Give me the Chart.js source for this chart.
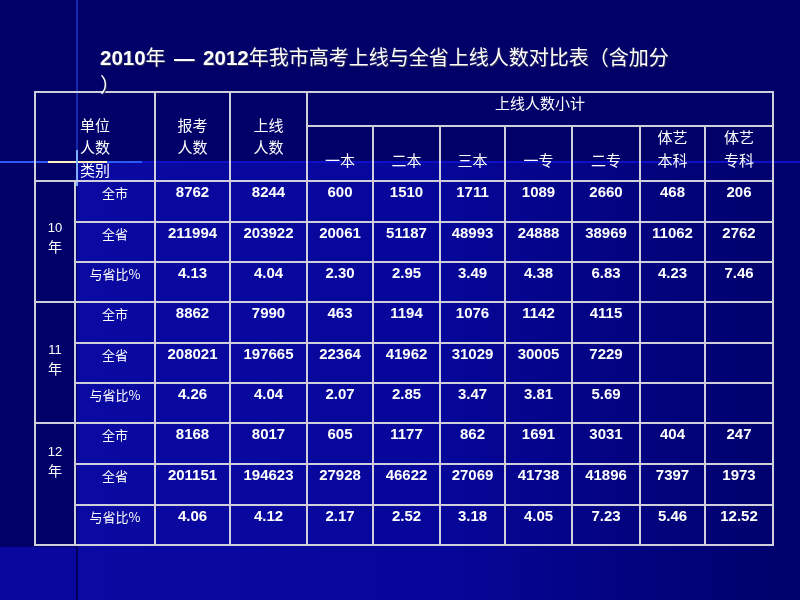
<!DOCTYPE html>
<html>
<head>
<meta charset="utf-8">
<script src="https://cdn.jsdelivr.net/npm/chart.js@4.4.1/dist/chart.umd.min.js"></script>
<style>
  html, body { margin: 0; padding: 0; background: #000066; }
  #wrap { position: relative; width: 800px; height: 600px; overflow: hidden; }
  canvas { position: absolute; left: 0; top: 0; }
  #title { position: absolute; left: 100px; top: 44px; color: #fff; white-space: nowrap;
           font-family: "Noto Sans CJK SC", sans-serif; font-size: 20px; line-height: 26px;
           text-shadow: 1px 1px 0 #30305a; }
  #title b { font-family: "Liberation Sans", Arial, sans-serif; font-size: 20.5px; }
  #title .dash { margin: 0 4px; }
</style>
</head>
<body>
<div id="wrap">
  <canvas id="tableChart" width="800" height="600"></canvas>
  <div id="title"><b>2010</b>年 <b class="dash">—</b> <b>2012</b>年我市高考上线与全省上线人数对比表（含加分<br>）</div>
</div>
<script>
// Table content
const cornerLabel = ['单位', '人数', '类别'];
const topHeaders = [['报考', '人数'], ['上线', '人数']];
const groupHeader = '上线人数小计';
const subHeaders = [['一本'], ['二本'], ['三本'], ['一专'], ['二专'], ['体艺', '本科'], ['体艺', '专科']];
const years = ['10', '11', '12'];
const rowKinds = ['全市', '全省', '与省比%'];

// columns: 报考人数, 上线人数, 一本, 二本, 三本, 一专, 二专, 体艺本科, 体艺专科
const city2010 = [8762, 8244, 600, 1510, 1711, 1089, 2660, 468, 206];
const prov2010 = [211994, 203922, 20061, 51187, 48993, 24888, 38969, 11062, 2762];
const ratio2010 = [4.13, 4.04, 2.30, 2.95, 3.49, 4.38, 6.83, 4.23, 7.46];
const city2011 = [8862, 7990, 463, 1194, 1076, 1142, 4115, null, null];
const prov2011 = [208021, 197665, 22364, 41962, 31029, 30005, 7229, null, null];
const ratio2011 = [4.26, 4.04, 2.07, 2.85, 3.47, 3.81, 5.69, null, null];
const city2012 = [8168, 8017, 605, 1177, 862, 1691, 3031, 404, 247];
const prov2012 = [201151, 194623, 27928, 46622, 27069, 41738, 41896, 7397, 1973];
const ratio2012 = [4.06, 4.12, 2.17, 2.52, 3.18, 4.05, 7.23, 5.46, 12.52];

const bodyRows = [city2010, prov2010, ratio2010, city2011, prov2011, ratio2011, city2012, prov2012, ratio2012];

// Layout (scale units)
const colEdges = [0, 40, 120, 195, 272, 338, 405, 470, 537, 605, 670, 738];
const rowEdges = [0, 34, 89, 130, 170, 210, 251, 291, 331, 372, 413, 453];
const brightTop = 70;
const yearOffsets = [47, 48, 29];

const LINE = '#cfcfdc';
const DARK = '#000068';
const CJK = '"Noto Sans CJK SC", sans-serif';
const LAT = '"Liberation Sans", Arial, sans-serif';

const tablePlugin = {
  id: 'table',
  beforeDraw(chart) {
    const { ctx, scales: { x, y } } = chart;
    const W = chart.width, H = chart.height;
    ctx.save();
    ctx.fillStyle = DARK;
    ctx.fillRect(0, 0, W, H);
    // template background: lighter blue fading to the right
    const bx0 = x.getPixelForValue(colEdges[1]) + 2;
    const by0 = y.getPixelForValue(brightTop);
    const byEnd = y.getPixelForValue(rowEdges[11]) + 2;
    const grad = ctx.createLinearGradient(bx0, 0, W, 0);
    grad.addColorStop(0, '#0a0aa2');
    grad.addColorStop(0.5, '#06069a');
    grad.addColorStop(0.85, '#020278');
    grad.addColorStop(1, '#00006a');
    ctx.fillStyle = grad;
    ctx.fillRect(bx0, by0, W - bx0, H - by0);
    ctx.fillStyle = '#08089e';
    ctx.fillRect(0, byEnd, bx0, H - byEnd);
    // template decoration lines
    ctx.lineWidth = 2;
    ctx.strokeStyle = '#0c10c8';
    ctx.beginPath();
    ctx.moveTo(0, by0); ctx.lineTo(W, by0);
    ctx.stroke();
    ctx.strokeStyle = '#2a5af8';
    ctx.beginPath();
    ctx.moveTo(0, by0); ctx.lineTo(142, by0);
    ctx.stroke();
    ctx.strokeStyle = '#fff4c4';
    ctx.beginPath();
    ctx.moveTo(48, by0); ctx.lineTo(107, by0);
    ctx.stroke();
    ctx.strokeStyle = '#1428b0';
    ctx.beginPath();
    ctx.moveTo(bx0, 0); ctx.lineTo(bx0, by0 - 12);
    ctx.stroke();
    ctx.strokeStyle = '#7ab0ff';
    ctx.beginPath();
    ctx.moveTo(bx0, by0 - 12); ctx.lineTo(bx0, by0 + 24);
    ctx.stroke();
    ctx.strokeStyle = '#00005a';
    ctx.beginPath();
    ctx.moveTo(bx0, byEnd); ctx.lineTo(bx0, H);
    ctx.stroke();
    ctx.restore();
  },
  afterDraw(chart) {
    const { ctx, scales: { x, y } } = chart;
    const px = v => x.getPixelForValue(v);
    const py = v => y.getPixelForValue(v);
    ctx.save();
    ctx.strokeStyle = LINE;
    ctx.lineWidth = 2;
    const seg = (x0, y0, x1, y1) => {
      ctx.beginPath();
      ctx.moveTo(px(x0), py(y0));
      ctx.lineTo(px(x1), py(y1));
      ctx.stroke();
    };
    const L = colEdges[0], R = colEdges[11], T = rowEdges[0], B = rowEdges[11];
    // outer border
    ctx.strokeRect(px(L), py(T), px(R) - px(L), py(B) - py(T));
    // horizontal lines
    seg(colEdges[4], rowEdges[1], R, rowEdges[1]);
    for (let r = 2; r < 11; r++) {
      const groupStart = (r - 2) % 3 === 0;
      seg(groupStart ? L : colEdges[1], rowEdges[r], R, rowEdges[r]);
    }
    // vertical lines
    seg(colEdges[1], rowEdges[2], colEdges[1], B);
    for (let c = 2; c <= 4; c++) seg(colEdges[c], T, colEdges[c], B);
    for (let c = 5; c <= 10; c++) seg(colEdges[c], rowEdges[1], colEdges[c], B);

    ctx.fillStyle = '#ffffff';
    ctx.textBaseline = 'middle';
    const text = (s, xv, yv, font, align) => {
      ctx.font = font;
      ctx.textAlign = align || 'center';
      ctx.fillText(s, px(xv), py(yv));
    };
    const mid = c => (colEdges[c] + colEdges[c + 1]) / 2;

    // header
    cornerLabel.forEach((s, i) => text(s, colEdges[1] + 5, 33 + i * 22.5, '15px ' + CJK, 'left'));
    topHeaders.forEach((lines, i) => {
      lines.forEach((s, j) => text(s, mid(2 + i), 33 + j * 22, '15px ' + CJK));
    });
    text(groupHeader, (colEdges[4] + R) / 2, 11, '15px ' + CJK);
    subHeaders.forEach((lines, i) => {
      const base = lines.length === 1 ? 68 : 45;
      lines.forEach((s, j) => text(s, mid(4 + i), base + j * 23, '15px ' + CJK));
    });

    // body
    years.forEach((yr, g) => {
      const top = rowEdges[2 + g * 3];
      text(yr, mid(0), top + yearOffsets[g], '13px ' + LAT);
      text('年', mid(0), top + yearOffsets[g] + 19, '14px ' + CJK);
    });
    bodyRows.forEach((vals, r) => {
      const top = rowEdges[2 + r];
      const kind = r % 3;
      text(rowKinds[kind], mid(1), top + 12, '13px ' + CJK);
      vals.forEach((v, c) => {
        if (v === null) return;
        const s = kind === 2 ? v.toFixed(2) : String(v);
        text(s, mid(2 + c), top + 11.5, 'bold 15px ' + LAT);
      });
    });
    ctx.restore();
  }
};

new Chart(document.getElementById('tableChart'), {
  type: 'scatter',
  data: { datasets: [] },
  options: {
    responsive: false,
    animation: false,
    devicePixelRatio: 1,
    layout: { padding: { left: 35, right: 27, top: 92, bottom: 55 } },
    plugins: { legend: { display: false }, tooltip: { enabled: false } },
    scales: {
      x: { type: 'linear', min: colEdges[0], max: colEdges[11], display: false },
      y: { type: 'linear', min: rowEdges[0], max: rowEdges[11], reverse: true, display: false }
    }
  },
  plugins: [tablePlugin]
});
</script>
</body>
</html>
